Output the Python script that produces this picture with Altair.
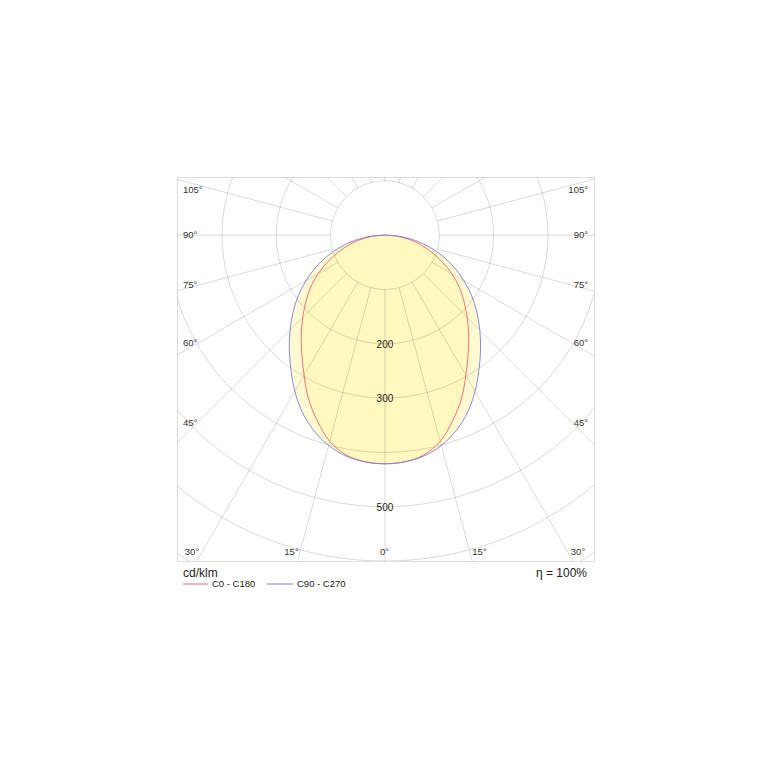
import altair as alt
import numpy as np
import pandas as pd

# ---- data (cd/klm) ----
angles = [0, 5, 10, 15, 20, 25, 30, 35, 40, 45, 50, 55, 60, 65, 70, 75, 80, 85, 90]
c0_c180 = [421, 419, 411, 393, 364, 333, 298, 267, 240, 214, 190, 167, 142, 116, 91, 68, 45, 22, 0]
c90_c270 = [421, 419, 413, 401, 383, 360, 332, 302, 274, 247, 221, 195, 168, 141, 113, 85, 57, 28, 0]

ring_values = [100, 200, 300, 400, 500, 600, 700]
ring_labels = [200, 300, 500]
radial_angles = list(range(0, 360, 15))

side_labels = ["105°", "90°", "75°", "60°", "45°"]
bottom_labels = ["30°", "15°", "0°", "15°", "30°"]

RED = "#e8686a"
BLUE = "#7c7ce8"
GRID = "#000000"
FONT = "Liberation Sans"

deg = np.pi / 180.0

# ---- grid geometry ----
ring_rows = []
for r in ring_values:
    for t in range(0, 362, 2):
        ring_rows.append({"ring": r, "t": t, "x": r * np.sin(t * deg), "y": r * np.cos(t * deg)})
rings = pd.DataFrame(ring_rows)

radial_rows = []
for a in radial_angles:
    for k, r in enumerate([100, 900]):
        radial_rows.append({"ang": a, "k": k, "x": r * np.sin(a * deg), "y": r * np.cos(a * deg)})
radials = pd.DataFrame(radial_rows)

# ---- curve table (mirrored: C0 / C180 and C90 / C270 halves) ----
curve_rows = []
for name, vals in [("C0 - C180", c0_c180), ("C90 - C270", c90_c270)]:
    for a, v in zip(angles, vals):
        for side in (-1, 1):
            if a == 0 and side == -1:
                continue
            curve_rows.append({"series": name, "s": side * a, "I": v})
curves = pd.DataFrame(curve_rows)

xs = alt.Scale(domain=[-383, 385], nice=False, zero=False)
ys = alt.Scale(domain=[-107, 600], nice=False, zero=False, reverse=True)


def X(f="x"):
    return alt.X(f"{f}:Q", scale=xs, axis=None)


def Y(f="y"):
    return alt.Y(f"{f}:Q", scale=ys, axis=None)


def curve_base(name):
    return (
        alt.Chart(curves)
        .transform_filter(alt.datum.series == name)
        .transform_calculate(
            x="datum.I*sin(datum.s*PI/180)",
            y="datum.I*cos(datum.s*PI/180)",
        )
    )


def fill_layer(name, color):
    return curve_base(name).mark_line(
        fill=color, stroke=color, strokeWidth=0.01, interpolate="catmull-rom"
    ).encode(x=X(), y=Y(), order=alt.Order("s:Q"))


def curve_layer(name, color):
    return curve_base(name).mark_line(
        color=color, strokeWidth=0.9, interpolate="catmull-rom"
    ).encode(x=X(), y=Y(), order=alt.Order("s:Q"))


fill_blue = fill_layer("C90 - C270", "#fffad2")
fill_red = fill_layer("C0 - C180", "#fff8bf")

ring_layer = (
    alt.Chart(rings)
    .mark_line(color=GRID, opacity=0.15, strokeWidth=1, clip=True)
    .encode(x=X(), y=Y(), detail="ring:N", order=alt.Order("t:Q"))
)
radial_layer = (
    alt.Chart(radials)
    .mark_line(color=GRID, opacity=0.15, strokeWidth=1, clip=True)
    .encode(x=X(), y=Y(), detail="ang:N", order=alt.Order("k:Q"))
)

ring_text = (
    alt.Chart(pd.DataFrame({"r": ring_labels}))
    .transform_calculate(x="0", lab="datum.r + ''")
    .mark_text(font=FONT, fontSize=10, color="#222", dy=1)
    .encode(x=X(), y=Y("r"), text="lab:N")
)

red_line = curve_layer("C0 - C180", RED)
blue_line = curve_layer("C90 - C270", BLUE)

layers = [fill_blue, fill_red, ring_layer, radial_layer, ring_text, red_line, blue_line]


def txt(label, px, py, align="left", size=9.5, color="#333"):
    return (
        alt.Chart(pd.DataFrame({"label": [label]}))
        .mark_text(font=FONT, fontSize=size, align=align, baseline="middle", color=color)
        .encode(x=alt.value(px), y=alt.value(py), text="label:N")
    )


side_y = [13, 58, 108, 166, 246]
for lab, py in zip(side_labels, side_y):
    layers.append(txt(lab, 6, py, "left"))
    layers.append(txt(lab, 411, py, "right"))

bottom_x = [15, 114.5, 207.5, 302.5, 401]
for lab, px in zip(bottom_labels, bottom_x):
    layers.append(txt(lab, px, 375, "center"))

layers.append(txt("cd/klm", 6, 396, "left", 12, "#222"))
layers.append(txt("η = 100%", 410, 396, "right", 12, "#222"))
layers.append(txt("C0 - C180", 35, 407, "left", 9.5, "#222"))
layers.append(txt("C90 - C270", 120, 407, "left", 9.5, "#222"))


def legend_rule(x1, x2, color):
    return (
        alt.Chart(pd.DataFrame({"a": [0]}))
        .mark_rule(color=color, strokeWidth=1)
        .encode(x=alt.value(x1), x2=alt.value(x2), y=alt.value(407))
    )


layers.append(legend_rule(6, 31, RED))
layers.append(legend_rule(90, 116, BLUE))

chart = (
    alt.layer(*layers)
    .properties(
        width=417,
        height=384,
        autosize=alt.AutoSizeParams(type="none"),
        padding={"left": 169, "top": 169, "right": 12, "bottom": 40},
    )
    .configure_view(stroke="#9a9a9a", strokeWidth=1, fill="white")
    .configure(background="white")
)

chart.save("out.html", embed_options={"renderer": "svg", "actions": False})
